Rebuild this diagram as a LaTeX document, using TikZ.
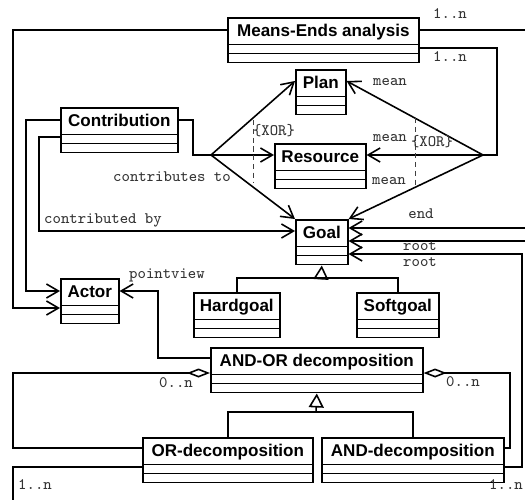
\documentclass[tikz,border=0pt]{standalone}
\usepackage{fontspec}
\newfontfamily\umlsans{Liberation Sans}
\usetikzlibrary{shapes.multipart, arrows.meta}

\begin{document}
\begin{tikzpicture}[x=0.2mm, y=-0.2mm, line width=0.9pt,
  cls/.style={draw, rectangle split, rectangle split parts=3, inner xsep=0pt, inner ysep=0pt,
    rectangle split empty part height=1.3mm, rectangle split empty part depth=0pt,
    font=\umlsans\bfseries\fontsize{9.7}{11}\selectfont, anchor=north west,
    execute at begin node={\rule[-1.4mm]{0pt}{5mm}}},
  lbl/.style={font=\ttfamily\fontsize{9.1}{10}\selectfont, text=black!80, inner sep=0pt},
  xor/.style={densely dashed, line width=0.5pt, black!75},
  nav/.style={-{Straight Barb[length=2.4mm, width=2.8mm]}},
  gen/.style={-{Triangle[open, length=2.8mm, width=3mm]}},
  agg/.style={-{Diamond[open, length=4.6mm, width=1.8mm]}}]
 \useasboundingbox (0,0) rectangle (525,500);
 % classes
 \node[cls, minimum width=38.2mm] (means) at (227,17) {Means-Ends analysis};
 \node[cls, minimum width=23.4mm] (contrib) at (60,107) {Contribution};
 \node[cls, minimum width=10mm] (plan) at (295,69) {Plan};
 \node[cls, minimum width=18.2mm] (resource) at (274,143) {Resource};
 \node[cls, minimum width=10.4mm] (goal) at (295,219) {Goal};
 \node[cls, minimum width=17.2mm] (hardgoal) at (193,292) {Hardgoal};
 \node[cls, minimum width=16.4mm] (softgoal) at (356,292) {Softgoal};
 \node[cls, minimum width=11.6mm] (actor) at (60,278) {Actor};
 \node[cls, minimum width=42.4mm] (andor) at (210,347) {AND-OR decomposition};
 \node[cls, minimum width=34mm] (ordec) at (142,437) {OR-decomposition};
 \node[cls, minimum width=36.4mm] (anddec) at (321,437) {AND-decomposition};
 % bends and loose ends
 \coordinate (cb) at (211,155);
 \coordinate (mb) at (483,155);
 \coordinate (meansR) at (525,30);
 \coordinate (endR) at (525,228);
 \coordinate (rootR) at (525,241);
 \coordinate (orB) at (13,500);
 \coordinate (gj) at (321,278);
 \coordinate (dj) at (316,412);
 % means-ends
 \draw[nav] (means.west |- meansR) -| (13,308) -- (actor.west |- 0,308);
 \draw (means.east |- meansR) -- (meansR);
 \draw (means.east |- 0,48) -| (497,155) -- (mb);
 \draw[nav] (mb) -- (plan.east |- 0,81);
 \draw[nav] (mb) -- (resource.east |- mb);
 \draw[nav] (mb) -- (goal.north east);
 \draw[xor] (415,118) -- (415,185);
 % contribution
 \draw[nav] (contrib.west |- 0,120) -| (26,291) -- (actor.west |- 0,291);
 \draw[nav] (contrib.west |- 0,137) -| (39,231) -- (goal.west |- 0,231);
 \draw (contrib.east |- 0,120) -| (193,155) -- (cb);
 \draw[nav] (cb) -- (plan.west |- 0,81);
 \draw[nav] (cb) -- (resource.west |- cb);
 \draw[nav] (cb) -- (goal.north west);
 \draw[xor] (253,120) -- (253,182);
 % goal
 \draw[nav] (endR) -- (goal.east |- endR);
 \draw[nav] (rootR) -- (goal.east |- rootR);
 \draw[nav] (anddec.east |- 0,467) -| (522,254) -- (goal.east |- 0,254);
 \draw (hardgoal.north) |- (gj) -| (softgoal.north);
 \draw[gen] (gj) -- (goal.south);
 % decompositions
 \draw[nav] (andor.west |- 0,358) -| (158,291) -- (actor.east |- 0,291);
 \draw (ordec.north) |- (dj) -| (anddec.north);
 \draw[gen] (dj) -- (andor.south);
 \draw[agg] (ordec.west |- 0,448) -| (13,373) -- (andor.west |- 0,373);
 \draw[agg] (anddec.east |- 0,448) -| (510,373) -- (andor.east |- 0,373);
 \draw (ordec.west |- 0,467) -| (orB);
 % labels
 \node[lbl] (m1n) at (450,14) {1..n};
 \node[lbl] (m2n) at (450,57) {1..n};
 \node[lbl] (mean1) at (390,82) {mean};
 \node[lbl] (mean2) at (390,138) {mean};
 \node[lbl] (mean3) at (389,181) {mean};
 \node[lbl] (xor1) at (274,131) {\{XOR\}};
 \node[lbl] (xor2) at (432,142) {\{XOR\}};
 \node[lbl] (cto) at (172,177) {contributes to};
 \node[lbl] (cby) at (103,220) {contributed by};
 \node[lbl] (lend) at (421,214) {end};
 \node[lbl] (lroot1) at (420,246) {root};
 \node[lbl] (lroot2) at (420,262) {root};
 \node[lbl] (lpv) at (167,275) {pointview};
 \node[lbl] (or0n) at (176,383) {0..n};
 \node[lbl] (and0n) at (463,382) {0..n};
 \node[lbl] (and1n) at (506,485) {1..n};
 \node[lbl] (or1n) at (35,485) {1..n};
\end{tikzpicture}
\end{document}
